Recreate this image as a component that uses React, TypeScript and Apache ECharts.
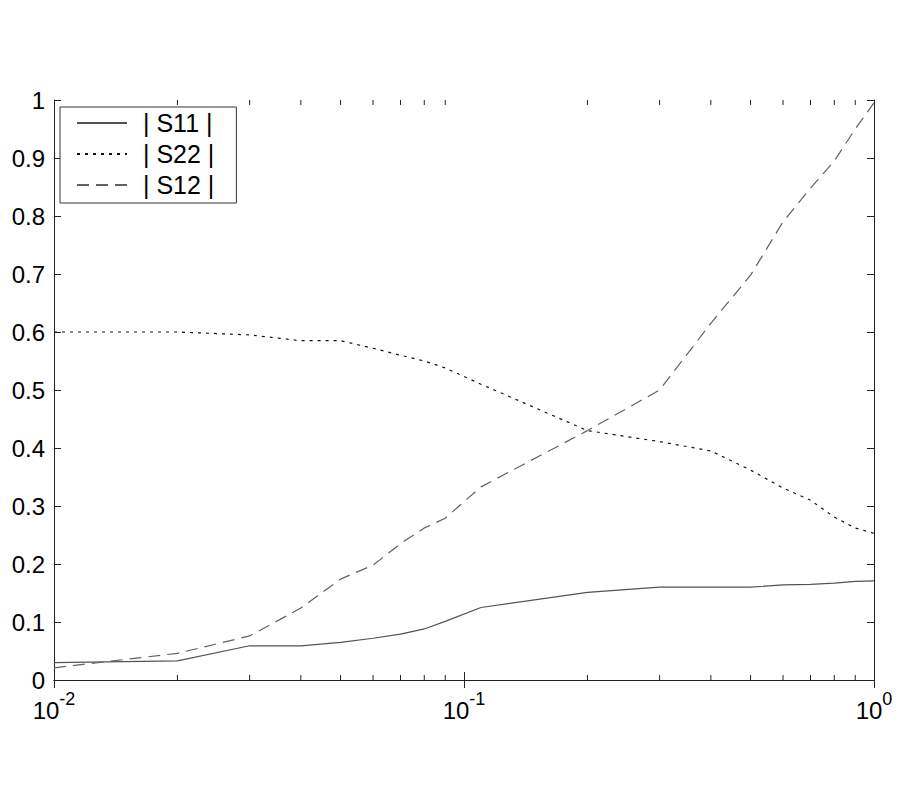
import React, { useEffect, useRef } from "react";
import * as echarts from "echarts";

const FONT = "Liberation Sans, Arial, sans-serif";

// frequency (normalised), log scale
const freq = [0.01, 0.02, 0.03, 0.04, 0.05, 0.06, 0.07, 0.08, 0.09, 0.11, 0.2, 0.3, 0.4, 0.5, 0.6, 0.7, 0.8, 0.9, 1];
const s11 = [0.030, 0.033, 0.059, 0.059, 0.065, 0.072, 0.079, 0.088, 0.101, 0.125, 0.151, 0.160, 0.160, 0.160, 0.164, 0.165, 0.167, 0.170, 0.171];
const s22 = [0.600, 0.600, 0.595, 0.585, 0.585, 0.572, 0.560, 0.550, 0.538, 0.510, 0.430, 0.411, 0.395, 0.362, 0.331, 0.310, 0.281, 0.262, 0.253];
const s12 = [0.021, 0.046, 0.076, 0.124, 0.174, 0.198, 0.235, 0.262, 0.279, 0.333, 0.430, 0.500, 0.615, 0.698, 0.790, 0.848, 0.895, 0.950, 0.995];
const seriesNames = ["| S11 |", "| S22 |", "| S12 |"];
const minorTicks = [0.02, 0.03, 0.04, 0.05, 0.06, 0.07, 0.08, 0.09, 0.2, 0.3, 0.4, 0.5, 0.6, 0.7, 0.8, 0.9];

const AXIS_COLOR = "#222";

export default function App() {
  const ref = useRef<HTMLDivElement>(null);
  useEffect(() => {
    if (!ref.current) return;
    const chart = echarts.init(ref.current, undefined, { renderer: "svg" });
    const zip = (ys: number[]) => freq.map((f, i) => [f, ys[i]]);
    const axisLine = { show: true, lineStyle: { color: AXIS_COLOR, width: 1 } };
    const xCommon = {
      type: "log",
      logBase: 10,
      min: 0.01,
      max: 1,
      axisLine,
      axisTick: { show: true, inside: true, length: 8, lineStyle: { color: AXIS_COLOR, width: 1 } },
      splitLine: { show: false },
      minorTick: { show: false },
    };
    const yCommon = {
      type: "value",
      min: 0,
      max: 1,
      interval: 0.1,
      axisLine,
      axisTick: { show: true, inside: true, length: 7, lineStyle: { color: AXIS_COLOR, width: 1 } },
      splitLine: { show: false },
    };
    chart.setOption({
      animation: false,
      backgroundColor: "#fff",
      grid: { left: 54, right: 26, top: 100, bottom: 120, containLabel: false, outerBoundsMode: "none" },
      legend: {
        orient: "vertical",
        left: 60,
        top: 107,
        padding: [3, 22, 5, 16],
        itemWidth: 50,
        itemHeight: 14,
        itemGap: 5,
        borderColor: "#333",
        borderWidth: 1,
        borderRadius: 0,
        backgroundColor: "#fff",
        data: seriesNames,
        itemStyle: { opacity: 0, borderWidth: 0 },
        textStyle: { fontSize: 25, fontFamily: FONT, color: "#000", lineHeight: 26, padding: [0, 0, 0, 11] },
      },
      xAxis: [
        {
          ...xCommon,
          position: "bottom",
          axisLabel: {
            show: true,
            margin: 10,
            formatter: (v: number) => `{b|10}{s|${Math.round(Math.log10(v))}}`,
            rich: {
              b: { fontSize: 24, fontFamily: FONT, color: "#000", lineHeight: 40, verticalAlign: "middle" },
              s: { fontSize: 18, fontFamily: FONT, color: "#000", lineHeight: 18, verticalAlign: "top" },
            },
          },
        },
        { ...xCommon, position: "top", axisLabel: { show: false } },
      ],
      yAxis: [
        {
          ...yCommon,
          position: "left",
          axisLabel: { show: true, margin: 9, fontSize: 24, fontFamily: FONT, color: "#000" },
        },
        { ...yCommon, position: "right", axisLabel: { show: false } },
      ],
      series: [
        {
          name: seriesNames[0],
          type: "line",
          symbol: "none",
          data: zip(s11),
          lineStyle: { color: "#4c5558", width: 1.2, type: "solid" },
          itemStyle: { color: "#4c5558" },
        },
        {
          name: seriesNames[1],
          type: "line",
          symbol: "none",
          data: zip(s22),
          lineStyle: { color: "#111", width: 1.2, type: [3, 5] },
          itemStyle: { color: "#111" },
        },
        {
          name: seriesNames[2],
          type: "line",
          symbol: "none",
          data: zip(s12),
          lineStyle: { color: "#5a6468", width: 1.2, type: [12, 7] },
          itemStyle: { color: "#5a6468" },
        },
        {
          name: "minorTicks",
          type: "custom",
          silent: true,
          clip: false,
          data: minorTicks.map((v) => [v, 0]),
          renderItem: (_params: any, api: any) => {
            const x = api.value(0);
            const b = api.coord([x, 0]);
            const t = api.coord([x, 1]);
            return {
              type: "group",
              children: [
                { type: "line", shape: { x1: b[0], y1: b[1], x2: b[0], y2: b[1] - 5 }, style: { stroke: AXIS_COLOR, lineWidth: 1 } },
                { type: "line", shape: { x1: t[0], y1: t[1], x2: t[0], y2: t[1] + 5 }, style: { stroke: AXIS_COLOR, lineWidth: 1 } },
              ],
            };
          },
        },
      ],
    });
    return () => chart.dispose();
  }, []);
  return <div ref={ref} style={{ position: "absolute", left: 0, top: 0, width: 900, height: 800 }} />;
}
